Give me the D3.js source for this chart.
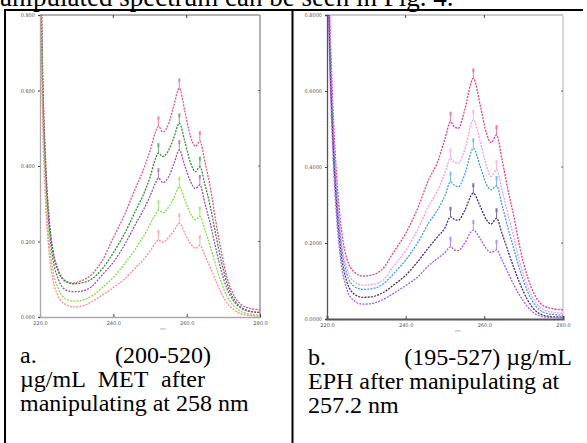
<!DOCTYPE html>
<html>
<head>
<meta charset="utf-8">
<script src="https://cdn.jsdelivr.net/npm/d3@7"></script>
<style>
  html, body { margin: 0; padding: 0; background: #fff; overflow: hidden; }
  svg { display: block; }
</style>
</head>
<body>
<svg id="fig" width="587" height="443"></svg>
<script>
// ── DATA ────────────────────────────────────────────
// panel a: MET, manipulated at 258 nm
const waveA = [220, 220.7, 221.5, 222.5, 223.5, 225, 227, 229, 231, 234, 237, 240, 243, 246, 248, 250,
               251.5, 252.3, 253.5, 255, 256.5, 258, 259.5, 261, 262.4, 263.6, 265, 266.5, 268, 269.5,
               271, 273, 275, 277.5, 280];
const metPink   = [1.10, 0.66, 0.42, 0.26, 0.18, 0.125, 0.096, 0.090, 0.095, 0.112, 0.150, 0.210, 0.270, 0.340, 0.385, 0.440,
                   0.490, 0.505, 0.490, 0.510, 0.560, 0.606, 0.545, 0.480, 0.452, 0.466, 0.410, 0.340, 0.250, 0.170,
                   0.105, 0.055, 0.032, 0.022, 0.019];
const metGreen  = [1.10, 0.65, 0.41, 0.255, 0.175, 0.120, 0.094, 0.088, 0.090, 0.100, 0.128, 0.170, 0.220, 0.280, 0.320, 0.370,
                   0.420, 0.434, 0.425, 0.440, 0.475, 0.513, 0.465, 0.410, 0.385, 0.398, 0.350, 0.290, 0.215, 0.145,
                   0.090, 0.045, 0.025, 0.015, 0.012];
const metPurple = [1.08, 0.62, 0.39, 0.235, 0.155, 0.100, 0.072, 0.067, 0.068, 0.080, 0.112, 0.145, 0.190, 0.245, 0.280, 0.320,
                   0.355, 0.368, 0.356, 0.370, 0.405, 0.442, 0.400, 0.360, 0.340, 0.350, 0.300, 0.245, 0.180, 0.120,
                   0.075, 0.040, 0.022, 0.014, 0.012];
const metLime   = [1.00, 0.57, 0.35, 0.20, 0.125, 0.075, 0.048, 0.042, 0.043, 0.055, 0.078, 0.105, 0.140, 0.180, 0.210, 0.245,
                   0.272, 0.283, 0.276, 0.290, 0.315, 0.345, 0.310, 0.275, 0.258, 0.266, 0.230, 0.185, 0.135, 0.090,
                   0.055, 0.028, 0.014, 0.007, 0.005];
const metSalmon = [0.95, 0.53, 0.31, 0.17, 0.10, 0.055, 0.033, 0.027, 0.028, 0.040, 0.058, 0.078, 0.100, 0.130, 0.150, 0.175,
                   0.196, 0.204, 0.198, 0.210, 0.228, 0.248, 0.222, 0.195, 0.182, 0.190, 0.162, 0.130, 0.095, 0.062,
                   0.037, 0.018, 0.008, 0.004, 0.002];
const peaksA = [252.3, 258, 263.6];

// panel b: EPH, manipulated at 257.2 nm
const waveB = [220, 220.7, 221.5, 222.5, 223.5, 225, 227, 229, 231, 234, 237, 240, 243, 246, 248, 250,
               251.4, 252.4, 253.4, 255, 257.2, 259, 260.5, 261.7, 263.1, 264.5, 266, 267.5, 269,
               271, 273, 275, 277.5, 280];
const ephPink   = [1.10, 0.80, 0.56, 0.37, 0.25, 0.160, 0.123, 0.113, 0.115, 0.130, 0.177, 0.225, 0.290, 0.370, 0.410, 0.475,
                   0.519, 0.505, 0.502, 0.550, 0.633, 0.560, 0.490, 0.464, 0.484, 0.420, 0.340, 0.270, 0.190,
                   0.110, 0.060, 0.035, 0.027, 0.024];
const ephOrchid = [1.08, 0.77, 0.53, 0.34, 0.22, 0.135, 0.098, 0.089, 0.090, 0.100, 0.140, 0.180, 0.235, 0.300, 0.335, 0.385,
                   0.423, 0.412, 0.410, 0.445, 0.524, 0.465, 0.405, 0.375, 0.392, 0.340, 0.275, 0.215, 0.150,
                   0.085, 0.045, 0.025, 0.018, 0.015];
const ephBlue   = [1.06, 0.74, 0.50, 0.32, 0.205, 0.120, 0.085, 0.078, 0.079, 0.090, 0.120, 0.155, 0.200, 0.255, 0.285, 0.325,
                   0.361, 0.352, 0.348, 0.380, 0.449, 0.400, 0.355, 0.340, 0.350, 0.300, 0.240, 0.185, 0.130,
                   0.072, 0.035, 0.018, 0.012, 0.010];
const ephDark   = [1.03, 0.70, 0.47, 0.29, 0.18, 0.100, 0.065, 0.057, 0.058, 0.068, 0.090, 0.115, 0.150, 0.190, 0.215, 0.240,
                   0.269, 0.262, 0.260, 0.285, 0.331, 0.295, 0.262, 0.250, 0.265, 0.225, 0.180, 0.135, 0.095,
                   0.050, 0.022, 0.010, 0.006, 0.005];
const ephViolet = [1.00, 0.67, 0.44, 0.26, 0.155, 0.080, 0.047, 0.039, 0.040, 0.050, 0.068, 0.088, 0.110, 0.142, 0.158, 0.175,
                   0.190, 0.182, 0.180, 0.200, 0.234, 0.210, 0.185, 0.175, 0.182, 0.155, 0.122, 0.090, 0.062,
                   0.032, 0.013, 0.006, 0.004, 0.003];
const peaksB = [251.4, 257.2, 263.1];

const xTicks = [220, 240, 260, 280];
const yTicks = [0, 0.2, 0.4, 0.6, 0.8];

// caption words, one array per line
const captionA = [['a.', '(200-520)'], ['µg/mL', 'MET', 'after'], ['manipulating at 258 nm']];
const captionB = [['b.', '(195-527) µg/mL'], ['EPH after manipulating at'], ['257.2 nm']];
const bodyText = 'manipulated spectrum can be seen in Fig. 4.';

// ── DRAW ────────────────────────────────────────────
const svg = d3.select('#fig');
const serif = '"Liberation Serif", "Times New Roman", serif';

// running text above the table, clipped by the page top
svg.append('text')
  .attr('x', -21).attr('y', 6)
  .attr('font-family', serif).attr('font-size', 27)
  .attr('fill', '#000')
  .text(bodyText);

// table borders
const table = svg.append('g').attr('stroke', '#000').attr('stroke-width', 2);
table.append('line').attr('x1', 4).attr('x2', 583).attr('y1', 10).attr('y2', 10);
table.append('line').attr('x1', 5).attr('x2', 5).attr('y1', 9).attr('y2', 443);
table.append('line').attr('x1', 292.5).attr('x2', 292.5).attr('y1', 9).attr('y2', 443);

function drawPanel(cfg) {
  const x = d3.scaleLinear().domain([220, 280]).range([cfg.left, cfg.right]);
  const y = d3.scaleLinear().domain([0, 0.8]).range([cfg.bottom, cfg.top]);
  const g = svg.append('g');

  const clipId = 'clip-' + cfg.id;
  g.append('clipPath').attr('id', clipId)
    .append('rect')
    .attr('x', cfg.left).attr('y', cfg.top)
    .attr('width', cfg.right - cfg.left).attr('height', cfg.bottom - cfg.top);

  // frame
  g.append('line').attr('x1', cfg.left).attr('x2', cfg.right).attr('y1', cfg.top).attr('y2', cfg.top)
    .attr('stroke', cfg.frameTop).attr('stroke-width', 1.5);
  g.append('line').attr('x1', cfg.right).attr('x2', cfg.right).attr('y1', cfg.top).attr('y2', cfg.bottom)
    .attr('stroke', cfg.frameRight).attr('stroke-width', 1.5);

  // axes
  const xAxis = g.append('g').attr('transform', `translate(0,${cfg.bottom})`)
    .call(d3.axisBottom(x).tickValues(xTicks).tickSize(-3).tickFormat(d3.format('.1f')));
  const yAxis = g.append('g').attr('transform', `translate(${cfg.left},0)`)
    .call(d3.axisLeft(y).tickValues(yTicks).tickSize(2).tickFormat(d3.format(cfg.yFmt)));
  [xAxis, yAxis].forEach(a => {
    a.select('.domain').attr('stroke', cfg.axisColor).attr('stroke-width', cfg.axisWidth);
    a.selectAll('.tick line').attr('stroke', '#444');
    a.selectAll('.tick text').attr('fill', '#555').attr('font-size', 5)
      .attr('font-family', 'DejaVu Sans, sans-serif');
  });
  yAxis.select('.domain').attr('stroke-width', 1.3);
  xAxis.selectAll('.tick text').attr('dy', '0.9em');

  // tick marks on the top and right edges
  g.selectAll('.ttick').data(xTicks.slice(1, 3)).enter().append('line')
    .attr('x1', d => x(d)).attr('x2', d => x(d))
    .attr('y1', cfg.top).attr('y2', cfg.top + 3).attr('stroke', '#444');
  g.selectAll('.rtick').data(yTicks.slice(1, 4)).enter().append('line')
    .attr('x1', cfg.right).attr('x2', cfg.right - 2)
    .attr('y1', d => y(d)).attr('y2', d => y(d)).attr('stroke', '#666');

  // axis title artefact
  g.append('text').attr('x', (cfg.left + cfg.right) / 2 + 10).attr('y', cfg.bottom + 13)
    .attr('font-size', 3.5).attr('fill', '#888').attr('font-family', 'DejaVu Sans, sans-serif')
    .text('nm');

  // spectra
  const line = d3.line()
    .x((d, i) => x(cfg.wave[i]))
    .y(d => y(d))
    .curve(d3.curveMonotoneX);
  const plot = g.append('g').attr('clip-path', `url(#${clipId})`);
  cfg.series.forEach(s => {
    plot.append('path')
      .datum(s.values)
      .attr('fill', 'none')
      .attr('stroke', s.color)
      .attr('stroke-width', 1.3)
      .attr('stroke-dasharray', '2,1.2')
      .attr('d', line);

    // peak-pick markers
    cfg.peaks.forEach(p => {
      const v = s.values[cfg.wave.indexOf(p)];
      plot.append('rect')
        .attr('x', x(p) - 1).attr('y', y(v) - 10)
        .attr('width', 2).attr('height', 4)
        .attr('fill', s.color).attr('opacity', 0.7);
      plot.append('line')
        .attr('x1', x(p)).attr('x2', x(p))
        .attr('y1', y(v) - 6).attr('y2', y(v))
        .attr('stroke', s.color).attr('stroke-width', 0.7);
    });
  });

  // caption: each word placed at its spot of the justified cell text
  const cap = svg.append('g').attr('font-family', serif).attr('font-size', 24).attr('fill', '#000');
  cfg.capPos.forEach((row, li) => {
    row.forEach((pos, wi) => {
      cap.append('text')
        .attr('x', pos[0]).attr('y', cfg.capY[li])
        .attr('text-anchor', pos[1])
        .text(cfg.caption[li][wi]);
    });
  });
}

drawPanel({
  id: 'a', left: 40, right: 260, top: 15, bottom: 317,
  wave: waveA, peaks: peaksA, yFmt: '.3f',
  frameTop: '#999', frameRight: '#999', axisColor: '#aaa', axisWidth: 1.3,
  series: [
    { color: '#e8508a', values: metPink },
    { color: '#2f8f3a', values: metGreen },
    { color: '#9a4fb0', values: metPurple },
    { color: '#84e03c', values: metLime },
    { color: '#ff8c8c', values: metSalmon }
  ],
  caption: captionA, capY: [363, 387, 411],
  capPos: [[[20, 'start'], [211, 'end']], [[20, 'start'], [123, 'middle'], [205, 'end']], [[20, 'start']]]
});

drawPanel({
  id: 'b', left: 327, right: 563, top: 15, bottom: 319,
  wave: waveB, peaks: peaksB, yFmt: '.4f',
  frameTop: '#bbb', frameRight: '#ccc', axisColor: '#555', axisWidth: 2,
  series: [
    { color: '#ee3b8a', values: ephPink },
    { color: '#f59af0', values: ephOrchid },
    { color: '#3d9ef0', values: ephBlue },
    { color: '#4b2a78', values: ephDark },
    { color: '#a15cf0', values: ephViolet }
  ],
  caption: captionB, capY: [365, 389, 413],
  capPos: [[[308, 'start'], [572, 'end']], [[308, 'start']], [[308, 'start']]]
});
</script>
</body>
</html>
